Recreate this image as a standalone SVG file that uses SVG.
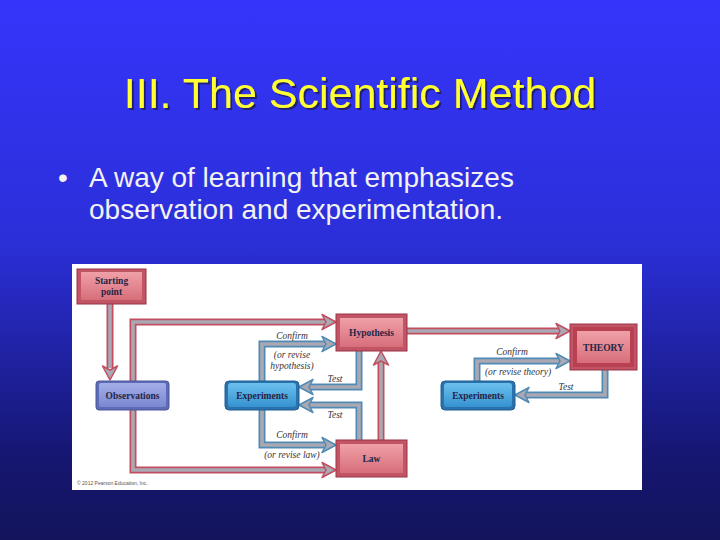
<svg xmlns="http://www.w3.org/2000/svg" xmlns:xlink="http://www.w3.org/1999/xlink" width="720" height="540" viewBox="0 0 720 540">
<defs>
<linearGradient id="bg" x1="0" y1="0" x2="0" y2="1">
<stop offset="0" stop-color="#3535fb"/>
<stop offset="0.45" stop-color="#2b2fd8"/>
<stop offset="0.85" stop-color="#151670"/>
<stop offset="1" stop-color="#14145c"/>
</linearGradient>
<linearGradient id="redIn" x1="0" y1="0" x2="0" y2="1">
<stop offset="0" stop-color="#f0a0a8"/>
<stop offset="1" stop-color="#d76e7a"/>
</linearGradient>
<linearGradient id="lavIn" x1="0" y1="0" x2="0" y2="1">
<stop offset="0" stop-color="#a3aee8"/>
<stop offset="1" stop-color="#7a88d2"/>
</linearGradient>
<linearGradient id="cyIn" x1="0" y1="0" x2="0" y2="1">
<stop offset="0" stop-color="#6cc0ee"/>
<stop offset="1" stop-color="#3592d0"/>
</linearGradient>
<filter id="shadow" x="-5%" y="-20%" width="110%" height="140%">
<feDropShadow dx="2" dy="2" stdDeviation="0.5" flood-color="#1a1a60" flood-opacity="0.9"/>
</filter>
<path id="ah" d="M0,0 L-14,-7.5 L-10,0 L-14,7.5 Z"/>
</defs>
<style>
.title{font-family:"Liberation Sans",Arial,sans-serif;font-size:43px;fill:#ffff33}
.body{font-family:"Liberation Sans",Arial,sans-serif;font-size:28px;fill:#f2f2f2}
.node{font-family:"Liberation Serif","Times New Roman",serif;font-size:9.5px;font-weight:bold;fill:#252545;text-anchor:middle}
.lbl{font-family:"Liberation Serif","Times New Roman",serif;font-size:9.5px;font-style:italic;fill:#333340;text-anchor:middle}
.oR{fill:none;stroke:#c24e60;stroke-width:7}
.oB{fill:none;stroke:#4f8bb5;stroke-width:7}
.in{fill:none;stroke:#aaa8b2;stroke-width:3.6}
.hR{fill:#aaa8b2;stroke:#c24e60;stroke-width:1.5;stroke-linejoin:round}
.hB{fill:#aaa8b2;stroke:#4f8bb5;stroke-width:1.5;stroke-linejoin:round}
.rOut{fill:#c25565;stroke:#993446;stroke-width:1}
.rIn{fill:url(#redIn)}
.lOut{fill:#5e6cb8;stroke:#4a5698;stroke-width:1}
.lIn{fill:url(#lavIn)}
.cOut{fill:#2a72ad;stroke:#1f5f94;stroke-width:1}
.cIn{fill:url(#cyIn)}
</style>
<rect width="720" height="540" fill="url(#bg)"/>
<text class="title" x="360" y="108" text-anchor="middle" filter="url(#shadow)">III. The Scientific Method</text>
<text class="body" x="58" y="187">•</text>
<text class="body" x="89" y="187">A way of learning that emphasizes</text>
<text class="body" x="89" y="219">observation and experimentation.</text>
<rect x="72" y="264" width="570" height="226" fill="#ffffff"/>
<g id="connectors">
<path class="oR" d="M110,304 V368"/><path class="in" d="M110,304 V368"/>
<use href="#ah" class="hR" transform="translate(110,380) rotate(90)"/>
<path class="oR" d="M133,381 V322 H326"/><path class="in" d="M133,381 V322 H326"/>
<use href="#ah" class="hR" transform="translate(336,322)"/>
<path class="oR" d="M133,410 V470 H326"/><path class="in" d="M133,410 V470 H326"/>
<use href="#ah" class="hR" transform="translate(336,470)"/>
<path class="oR" d="M381,440 V361"/><path class="in" d="M381,440 V361"/>
<use href="#ah" class="hR" transform="translate(381,351) rotate(-90)"/>
<path class="oR" d="M407,331 H560"/><path class="in" d="M407,331 H560"/>
<use href="#ah" class="hR" transform="translate(570,331)"/>
<path class="oB" d="M262,381 V344 H326"/><path class="in" d="M262,381 V344 H326"/>
<use href="#ah" class="hB" transform="translate(336,344)"/>
<path class="oB" d="M359,351 V387 H309"/><path class="in" d="M359,351 V387 H309"/>
<use href="#ah" class="hB" transform="translate(299,387) rotate(180)"/>
<path class="oB" d="M359,440 V405 H309"/><path class="in" d="M359,440 V405 H309"/>
<use href="#ah" class="hB" transform="translate(299,405) rotate(180)"/>
<path class="oB" d="M262,410 V445 H326"/><path class="in" d="M262,410 V445 H326"/>
<use href="#ah" class="hB" transform="translate(336,445)"/>
<path class="oB" d="M477,381 V361 H560"/><path class="in" d="M477,381 V361 H560"/>
<use href="#ah" class="hB" transform="translate(570,361)"/>
<path class="oB" d="M605,370 V395 H525"/><path class="in" d="M605,370 V395 H525"/>
<use href="#ah" class="hB" transform="translate(515,395) rotate(180)"/>
</g>
<g id="labels">
<text class="lbl" x="292" y="339">Confirm</text>
<text class="lbl" x="292" y="358">(or revise</text>
<text class="lbl" x="292" y="369">hypothesis)</text>
<text class="lbl" x="335" y="382">Test</text>
<text class="lbl" x="335" y="418">Test</text>
<text class="lbl" x="292" y="438">Confirm</text>
<text class="lbl" x="292" y="458">(or revise law)</text>
<text class="lbl" x="512" y="355">Confirm</text>
<text class="lbl" x="518" y="375">(or revise theory)</text>
<text class="lbl" x="566" y="390">Test</text>
</g>
<g id="starting-point">
<rect class="rOut" x="77" y="269" width="69" height="35"/>
<rect class="rIn" x="81" y="272" width="61" height="28"/>
<text class="node" x="111.5" y="284">Starting</text>
<text class="node" x="111.5" y="295">point</text>
</g>
<g id="observations">
<rect class="lOut" x="96" y="381" width="73" height="29" rx="3"/>
<rect class="lIn" x="99" y="383" width="67" height="24" rx="2"/>
<text class="node" x="132.5" y="399">Observations</text>
</g>
<g id="experiments-left">
<rect class="cOut" x="225" y="381" width="74" height="29" rx="4"/>
<rect class="cIn" x="228" y="383" width="68" height="24" rx="3"/>
<text class="node" x="262" y="399">Experiments</text>
</g>
<g id="hypothesis">
<rect class="rOut" x="336" y="314" width="71" height="37"/>
<rect class="rIn" x="340" y="318" width="63" height="29"/>
<text class="node" x="371.5" y="336">Hypothesis</text>
</g>
<g id="law">
<rect class="rOut" x="336" y="440" width="71" height="37"/>
<rect class="rIn" x="340" y="444" width="63" height="29"/>
<text class="node" x="371.5" y="462">Law</text>
</g>
<g id="theory">
<rect class="rOut" x="570" y="324" width="67" height="46"/>
<rect x="573" y="327" width="61" height="40" fill="#b84050"/>
<rect class="rIn" x="577" y="331" width="53" height="32"/>
<text class="node" x="603.5" y="351">THEORY</text>
</g>
<g id="experiments-right">
<rect class="cOut" x="441" y="381" width="74" height="29" rx="4"/>
<rect class="cIn" x="444" y="383" width="68" height="24" rx="3"/>
<text class="node" x="478" y="399">Experiments</text>
</g>
<text x="77" y="485" font-family="Liberation Sans,Arial,sans-serif" font-size="5" fill="#555">© 2012 Pearson Education, Inc.</text>
</svg>
